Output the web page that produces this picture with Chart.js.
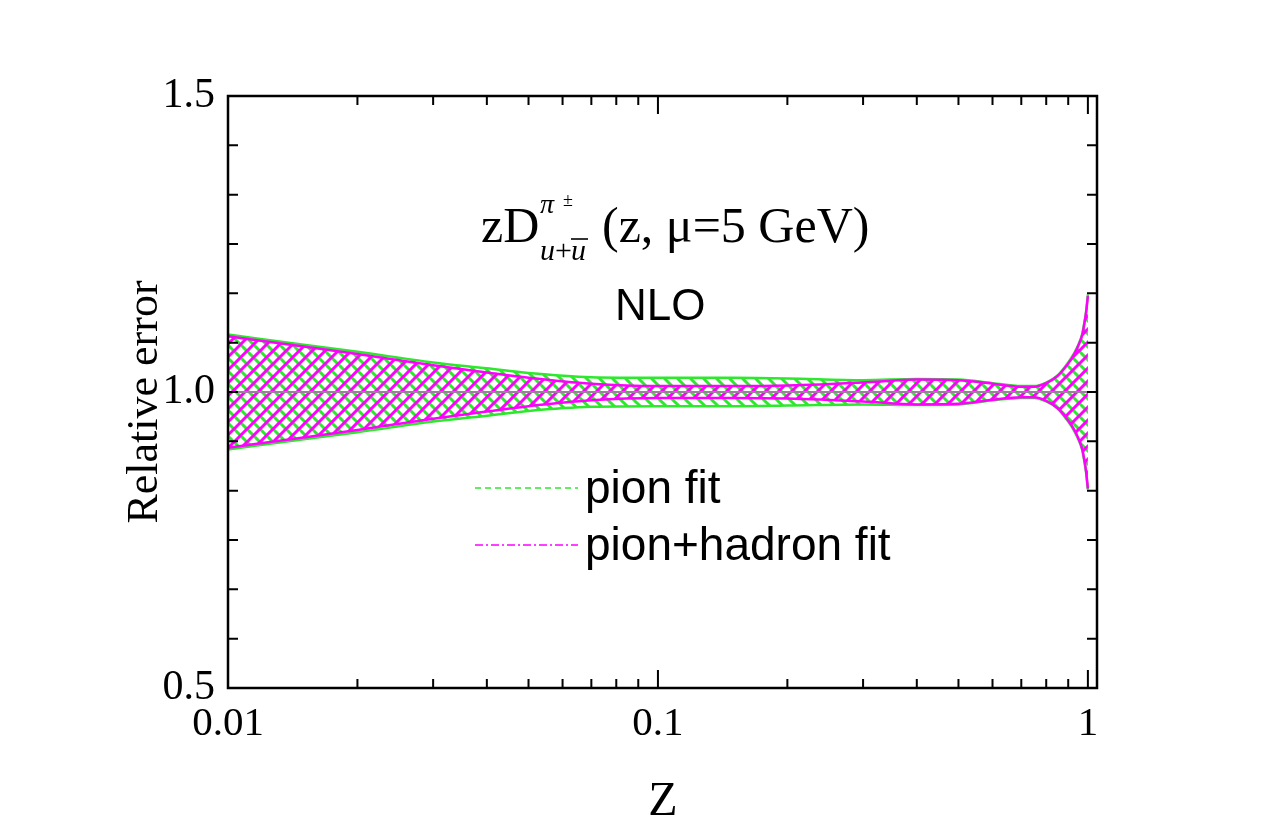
<!DOCTYPE html>
<html>
<head>
<meta charset="utf-8">
<script src="https://cdn.jsdelivr.net/npm/chart.js@4.4.1/dist/chart.umd.min.js"></script>
<style>
html,body{margin:0;padding:0;background:#fff;}
#wrap{width:1275px;height:825px;position:relative;}
</style>
</head>
<body>
<div id="wrap"><canvas id="c" width="1275" height="825"></canvas></div>
<script>
// ---- data ----
const zValues   = [0.01, 0.015, 0.02, 0.03, 0.04, 0.05, 0.07, 0.1, 0.15, 0.2, 0.3, 0.4, 0.5, 0.6, 0.7, 0.75, 0.8, 0.85, 0.9, 0.93, 0.95, 0.97, 0.98, 0.99, 1.0];
const pionUpper = [1.097, 1.080, 1.068, 1.050, 1.040, 1.032, 1.025, 1.024, 1.024, 1.023, 1.020, 1.022, 1.021, 1.015, 1.010, 1.010, 1.016, 1.028, 1.050, 1.066, 1.080, 1.098, 1.115, 1.135, 1.165];
const pionLower = [0.903, 0.920, 0.932, 0.950, 0.960, 0.968, 0.975, 0.976, 0.976, 0.977, 0.979, 0.978, 0.979, 0.986, 0.990, 0.990, 0.984, 0.972, 0.950, 0.934, 0.920, 0.902, 0.885, 0.865, 0.835];
const hadUpper  = [1.094, 1.077, 1.064, 1.045, 1.033, 1.024, 1.014, 1.010, 1.010, 1.011, 1.016, 1.021, 1.020, 1.014, 1.009, 1.009, 1.015, 1.027, 1.048, 1.064, 1.078, 1.096, 1.113, 1.133, 1.162];
const hadLower  = [0.906, 0.923, 0.936, 0.955, 0.967, 0.976, 0.986, 0.990, 0.990, 0.989, 0.984, 0.979, 0.980, 0.987, 0.991, 0.991, 0.985, 0.973, 0.952, 0.936, 0.922, 0.904, 0.887, 0.867, 0.837];
const centerZ   = [0.01, 1.0];
const centerVal = [1.0, 1.0];
const xTickValues = [0.01, 0.1, 1];
const xTickLabels = ['0.01', '0.1', '1'];
const yTickValues = [0.5, 1.0, 1.5];
const yTickLabels = ['0.5', '1.0', '1.5'];
const legendLabels = ['pion fit', 'pion+hadron fit'];

const GREEN = '#2ee82e';
const MAGENTA = '#ff00ff';

function hatch(color, dir) {
  const s = 13;
  const c = document.createElement('canvas');
  c.width = s; c.height = s;
  const g = c.getContext('2d');
  g.strokeStyle = color; g.lineWidth = 3; g.lineCap = 'square';
  g.beginPath();
  if (dir > 0) {
    g.moveTo(0, s); g.lineTo(s, 0);
    g.moveTo(-s/2, s/2); g.lineTo(s/2, -s/2);
    g.moveTo(s/2, s*1.5); g.lineTo(s*1.5, s/2);
  } else {
    g.moveTo(0, 0); g.lineTo(s, s);
    g.moveTo(-s/2, s/2); g.lineTo(s/2, s*1.5);
    g.moveTo(s/2, -s/2); g.lineTo(s*1.5, s/2);
  }
  g.stroke();
  return g.createPattern(c, 'repeat');
}

const pts = (xs, ys) => xs.map((x, i) => ({x: x, y: ys[i]}));

const framePlugin = {
  id: 'frame',
  afterDraw(chart) {
    const ctx = chart.ctx;
    const a = chart.chartArea;
    const xs = chart.scales.x, ys = chart.scales.y;
    ctx.save();
    ctx.strokeStyle = '#000';
    ctx.lineWidth = 2.5;
    ctx.strokeRect(a.left, a.top, a.right - a.left, a.bottom - a.top);
    ctx.lineWidth = 2;
    ctx.beginPath();
    // x ticks (bottom & top), inward
    for (let d = 0.01; d < 2; d *= 10) {
      for (let m = 1; m <= 9; m++) {
        const v = d * m;
        if (v > xs.max) break;
        const px = xs.getPixelForValue(v);
        const len = (m === 1) ? 18 : 9;
        ctx.moveTo(px, a.bottom); ctx.lineTo(px, a.bottom - len);
        ctx.moveTo(px, a.top); ctx.lineTo(px, a.top + len);
      }
    }
    // y ticks (left & right), every 1/12
    for (let k = 1; k < 12; k++) {
      const py = ys.getPixelForValue(0.5 + k / 12);
      ctx.moveTo(a.left, py); ctx.lineTo(a.left + 10, py);
      ctx.moveTo(a.right, py); ctx.lineTo(a.right - 10, py);
    }
    ctx.stroke();

    // legend
    ctx.lineWidth = 1.5;
    ctx.strokeStyle = GREEN;
    ctx.setLineDash([6, 4]);
    ctx.beginPath(); ctx.moveTo(475, 488); ctx.lineTo(578, 488); ctx.stroke();
    ctx.strokeStyle = MAGENTA;
    ctx.setLineDash([8, 3, 2, 3]);
    ctx.beginPath(); ctx.moveTo(475, 545); ctx.lineTo(578, 545); ctx.stroke();
    ctx.setLineDash([]);
    ctx.fillStyle = '#000';
    ctx.textBaseline = 'alphabetic';
    ctx.textAlign = 'left';
    ctx.font = '46px "Liberation Sans", Arial, sans-serif';
    ctx.fillText(legendLabels[0], 585, 503);
    ctx.fillText(legendLabels[1], 585, 560);

    // annotations
    ctx.font = '44px "Liberation Sans", Arial, sans-serif';
    ctx.fillText('NLO', 615, 320);
    ctx.font = '50px "Liberation Serif", "Times New Roman", serif';
    ctx.fillText('zD', 481, 242);
    ctx.fillText('(z, \u03bc=5 GeV)', 602, 242);
    ctx.font = 'italic 28px "Liberation Serif", "Times New Roman", serif';
    ctx.fillText('\u03c0', 540, 213);
    ctx.font = '18px "Liberation Serif", "Times New Roman", serif';
    ctx.fillText('\u00b1', 563, 206);
    ctx.font = 'italic 30px "Liberation Serif", "Times New Roman", serif';
    ctx.fillText('u', 540, 260);
    ctx.font = '30px "Liberation Serif", "Times New Roman", serif';
    ctx.fillText('+', 555, 260);
    ctx.font = 'italic 30px "Liberation Serif", "Times New Roman", serif';
    ctx.fillText('u', 571, 260);
    ctx.lineWidth = 1.6;
    ctx.strokeStyle = '#000';
    ctx.beginPath(); ctx.moveTo(571, 239); ctx.lineTo(588, 239); ctx.stroke();

    // axis titles
    ctx.font = '48px "Liberation Serif", "Times New Roman", serif';
    ctx.textAlign = 'center';
    ctx.fillText('Z', 663, 815);
    ctx.save();
    ctx.translate(157, 402);
    ctx.rotate(-Math.PI / 2);
    ctx.font = '44px "Liberation Serif", "Times New Roman", serif';
    ctx.fillText('Relative error', 0, 0);
    ctx.restore();
    ctx.restore();
  }
};

const serifTicks = {family: '"Liberation Serif", "Times New Roman", serif', size: 41};

new Chart(document.getElementById('c'), {
  type: 'line',
  data: {
    datasets: [
      {label: legendLabels[0], data: pts(zValues, pionUpper), borderColor: GREEN, borderWidth: 2.5,
       backgroundColor: hatch(GREEN, -1), fill: '+1', pointRadius: 0, cubicInterpolationMode: 'monotone', order: 5},
      {label: legendLabels[0] + ' low', data: pts(zValues, pionLower), borderColor: GREEN, borderWidth: 2.5,
       fill: false, pointRadius: 0, cubicInterpolationMode: 'monotone', order: 4},
      {label: legendLabels[1], data: pts(zValues, hadUpper), borderColor: MAGENTA, borderWidth: 2.5,
       backgroundColor: hatch(MAGENTA, 1), fill: '+1', pointRadius: 0, cubicInterpolationMode: 'monotone', order: 3},
      {label: legendLabels[1] + ' low', data: pts(zValues, hadLower), borderColor: MAGENTA, borderWidth: 2.5,
       fill: false, pointRadius: 0, cubicInterpolationMode: 'monotone', order: 2},
      {label: 'center', data: pts(centerZ, centerVal), borderColor: '#9c7f9c', borderWidth: 2,
       fill: false, pointRadius: 0, order: 1}
    ]
  },
  options: {
    responsive: false,
    animation: false,
    events: [],
    layout: {padding: {top: 96, right: 178, left: 0, bottom: 0}},
    plugins: {legend: {display: false}, title: {display: false}, tooltip: {enabled: false}},
    scales: {
      x: {
        type: 'logarithmic', min: 0.01, max: 1.05,
        grid: {display: false, drawTicks: false},
        border: {display: false},
        afterBuildTicks(s) { s.ticks = xTickValues.map(v => ({value: v})); },
        afterFit(s) { s.height = 137; },
        ticks: {color: '#000', font: serifTicks, padding: 12, maxRotation: 0, autoSkip: false,
          callback(v) { const i = xTickValues.indexOf(v); return i >= 0 ? xTickLabels[i] : ''; }}
      },
      y: {
        type: 'linear', min: 0.5, max: 1.5,
        grid: {display: false, drawTicks: false},
        border: {display: false},
        afterBuildTicks(s) { s.ticks = yTickValues.map(v => ({value: v})); },
        afterFit(s) { s.width = 228; },
        ticks: {color: '#000', font: {family: '"Liberation Serif", "Times New Roman", serif', size: 42}, padding: 13,
          callback(v) { const i = yTickValues.findIndex(t => Math.abs(t - v) < 1e-9); return i >= 0 ? yTickLabels[i] : ''; }}
      }
    }
  },
  plugins: [framePlugin]
});
</script>
</body>
</html>
